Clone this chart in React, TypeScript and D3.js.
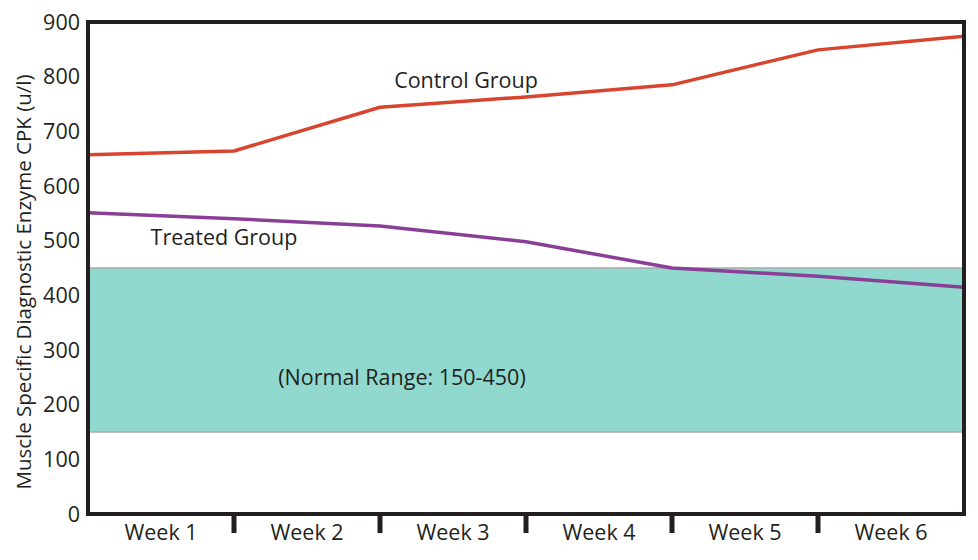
import React from "react";
import * as d3 from "d3";

const weeks = ["Week 1", "Week 2", "Week 3", "Week 4", "Week 5", "Week 6"];
const pointIdx = [0, 1, 2, 3, 4, 5, 6];
const controlValues = [657, 664, 744, 763, 785, 849, 874];
const treatedValues = [551, 540, 527, 498, 450, 435, 415];
const normalRange = [150, 450];
const yTicks = [0, 100, 200, 300, 400, 500, 600, 700, 800, 900];

const W = 978;
const H = 560;
const m = { left: 88, right: 14, top: 22, bottom: 46 };
const FONT = "'Open Sans', 'Noto Sans', sans-serif";

export default function App() {
  const x = d3.scaleLinear().domain([0, 6]).range([m.left, W - m.right]);
  const y = d3.scaleLinear().domain([0, 900]).range([H - m.bottom, m.top]);
  const band = d3.scaleBand().domain(weeks).range([m.left, W - m.right]);
  const line = d3
    .line<number>()
    .x((_, i) => x(pointIdx[i]))
    .y((d) => y(d));

  const x0 = m.left;
  const x1 = W - m.right;
  const y0 = y(0);
  const yTop = y(900);

  return (
    <svg
      width={W}
      height={H}
      style={{ position: "absolute", left: 0, top: 0, background: "#fff" }}
      fontFamily={FONT}
    >
      <rect
        x={x0}
        y={y(normalRange[1])}
        width={x1 - x0}
        height={y(normalRange[0]) - y(normalRange[1])}
        fill="#91d9cf"
      />
      {normalRange.map((v) => (
        <line key={v} x1={x0} x2={x1} y1={y(v)} y2={y(v)} stroke="#a8a8a8" strokeWidth={1.5} />
      ))}
      <path d={line(controlValues) || ""} fill="none" stroke="#d8442e" strokeWidth={3.5} strokeLinejoin="round" />
      <path d={line(treatedValues) || ""} fill="none" stroke="#8a3f97" strokeWidth={3.5} strokeLinejoin="round" />

      {/* frame */}
      <path
        d={`M${x0},${yTop}H${x1}V${y0}H${x0}Z`}
        fill="none"
        stroke="#231f20"
        strokeWidth={4}
      />
      {/* week separators */}
      {pointIdx.slice(1, 6).map((i) => (
        <line key={i} x1={x(i)} x2={x(i)} y1={y0} y2={y0 + 19} stroke="#231f20" strokeWidth={5} />
      ))}
      {weeks.map((w) => (
        <text
          key={w}
          x={(band(w) || 0) + band.bandwidth() / 2}
          y={540}
          textAnchor="middle"
          fontSize={21.5}
          fill="#231f20"
        >
          {w}
        </text>
      ))}
      {yTicks.map((t) => (
        <text key={t} x={80} y={y(t) + 7.5} textAnchor="end" fontSize={21.5} fill="#231f20">
          {t}
        </text>
      ))}
      <text
        transform={`translate(31,${(y0 + yTop) / 2 + 14}) rotate(-90)`}
        textAnchor="middle"
        fontSize={20.5}
        fill="#231f20"
      >
        Muscle Specific Diagnostic Enzyme CPK (u/l)
      </text>
      <text x={466} y={88} textAnchor="middle" fontSize={21.5} fill="#231f20">
        Control Group
      </text>
      <text x={224} y={245} textAnchor="middle" fontSize={21.5} fill="#231f20">
        Treated Group
      </text>
      <text x={402} y={385} textAnchor="middle" fontSize={21.5} fill="#231f20">
        (Normal Range: 150-450)
      </text>
    </svg>
  );
}
